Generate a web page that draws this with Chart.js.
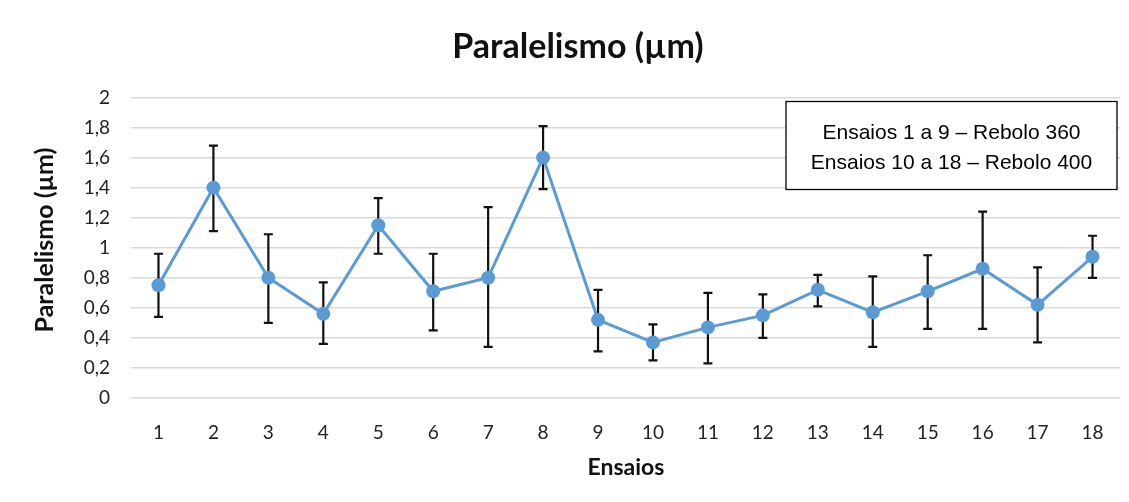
<!DOCTYPE html>
<html>
<head>
<meta charset="utf-8">
<title>Paralelismo (µm)</title>
<script src="https://cdn.jsdelivr.net/npm/chart.js@4/dist/chart.umd.min.js"></script>
<style>
  html, body { margin: 0; padding: 0; background: #ffffff; }
  #wrap { width: 1129px; height: 502px; position: relative; }
</style>
</head>
<body>
<div id="wrap"><canvas id="chart" width="1129" height="502"></canvas></div>
<script>
// Ensaios (test runs) on the category axis
const ensaios = ['1','2','3','4','5','6','7','8','9','10','11','12','13','14','15','16','17','18'];

// Mean parallelism per run (µm)
const paralelismo = [0.75, 1.40, 0.80, 0.56, 1.15, 0.71, 0.80, 1.60, 0.52,
                     0.37, 0.47, 0.55, 0.72, 0.57, 0.71, 0.86, 0.62, 0.94];

// Error bar limits (µm)
const limiteSuperior = [0.96, 1.68, 1.09, 0.77, 1.33, 0.96, 1.27, 1.81, 0.72,
                        0.49, 0.70, 0.69, 0.82, 0.81, 0.95, 1.24, 0.87, 1.08];
const limiteInferior = [0.54, 1.11, 0.50, 0.36, 0.96, 0.45, 0.34, 1.39, 0.31,
                        0.25, 0.23, 0.40, 0.61, 0.34, 0.46, 0.46, 0.37, 0.80];

// Y tick labels, Portuguese decimal comma
const yTicks = ['0','0,2','0,4','0,6','0,8','1','1,2','1,4','1,6','1,8','2'];

// Titles and note box text
const tituloGrafico = 'Paralelismo (µm)';
const tituloX = 'Ensaios';
const tituloY = 'Paralelismo (µm)';
const notaLinhas = ['Ensaios 1 a 9 \u2013 Rebolo 360', 'Ensaios 10 a 18 \u2013 Rebolo 400'];

const azul = '#5b9bd5';
const fonteUI = "'Lato', 'Open Sans', sans-serif";

// Draws vertical error bars with caps underneath the line and markers
const errorBars = {
  id: 'errorBars',
  beforeDatasetsDraw(chart) {
    const {ctx, scales: {x, y}} = chart;
    ctx.save();
    ctx.strokeStyle = '#111111';
    ctx.lineWidth = 2.2;
    const cap = 4.5;
    ensaios.forEach((lbl, i) => {
      const px = x.getPixelForValue(i);
      const yTop = y.getPixelForValue(limiteSuperior[i]);
      const yBot = y.getPixelForValue(limiteInferior[i]);
      ctx.beginPath();
      ctx.moveTo(px, yTop); ctx.lineTo(px, yBot);
      ctx.moveTo(px - cap, yTop); ctx.lineTo(px + cap, yTop);
      ctx.moveTo(px - cap, yBot); ctx.lineTo(px + cap, yBot);
      ctx.stroke();
    });
    ctx.restore();
  }
};

// Chart title and axis titles, placed around the plot area
const rotulos = {
  id: 'rotulos',
  afterDraw(chart) {
    const {ctx, chartArea} = chart;
    ctx.save();
    ctx.fillStyle = '#111111';
    ctx.textAlign = 'center';
    ctx.textBaseline = 'alphabetic';

    ctx.font = `bold 34px ${fonteUI}`;
    ctx.fillText(tituloGrafico, 578, chartArea.top - 39.5);

    ctx.font = `bold 23px ${fonteUI}`;
    ctx.fillText(tituloX, 626, chartArea.bottom + 77);

    ctx.font = `bold 25px ${fonteUI}`;
    ctx.translate(53, chartArea.top + 142.5);
    ctx.rotate(-Math.PI / 2);
    ctx.fillText(tituloY, 0, 0);
    ctx.restore();
  }
};

// Boxed note in the upper-right corner of the plot
const notaBox = {
  id: 'notaBox',
  afterDraw(chart) {
    const {ctx, chartArea} = chart;
    const w = 331, h = 88;
    const bx = chartArea.right - 3 - w;
    const by = chartArea.top + 4;
    ctx.save();
    ctx.fillStyle = '#ffffff';
    ctx.fillRect(bx, by, w, h);
    ctx.strokeStyle = '#000000';
    ctx.lineWidth = 1.3;
    ctx.strokeRect(bx, by, w, h);
    ctx.fillStyle = '#000000';
    ctx.font = "21px 'Liberation Sans', Arial, sans-serif";
    ctx.textAlign = 'center';
    ctx.textBaseline = 'middle';
    ctx.fillText(notaLinhas[0], bx + w / 2, by + 32);
    ctx.fillText(notaLinhas[1], bx + w / 2, by + 62);
    ctx.restore();
  }
};

new Chart(document.getElementById('chart'), {
  type: 'line',
  data: {
    labels: ensaios,
    datasets: [{
      label: 'Paralelismo (µm)',
      data: paralelismo,
      borderColor: azul,
      backgroundColor: azul,
      borderWidth: 3,
      pointRadius: 7,
      pointHoverRadius: 7,
      pointBackgroundColor: azul,
      pointBorderColor: azul,
      pointBorderWidth: 0,
      tension: 0,
      fill: false
    }]
  },
  options: {
    responsive: false,
    animation: false,
    devicePixelRatio: 1,
    layout: { padding: { left: 0, right: 9, top: 97.5, bottom: 0 } },
    plugins: {
      legend: { display: false },
      tooltip: { enabled: false },
      title: { display: false }
    },
    scales: {
      x: {
        type: 'category',
        offset: true,
        grid: { display: false, drawTicks: false },
        border: { display: false },
        ticks: {
          color: '#222222',
          padding: 23,
          maxRotation: 0,
          autoSkip: false,
          font: { family: fonteUI, size: 19 }
        },
        title: { display: false },
        afterFit(scale) { scale.height = 104; }
      },
      y: {
        min: 0,
        max: 2,
        grid: { color: '#d9d9d9', lineWidth: 1.6, drawTicks: false },
        border: { display: false },
        ticks: {
          stepSize: 0.2,
          color: '#222222',
          padding: 21,
          font: { family: fonteUI, size: 19 },
          callback: (v, i) => yTicks[i]
        },
        title: { display: false },
        afterFit(scale) { scale.width = 131; }
      }
    }
  },
  plugins: [errorBars, rotulos, notaBox]
});
</script>
</body>
</html>
